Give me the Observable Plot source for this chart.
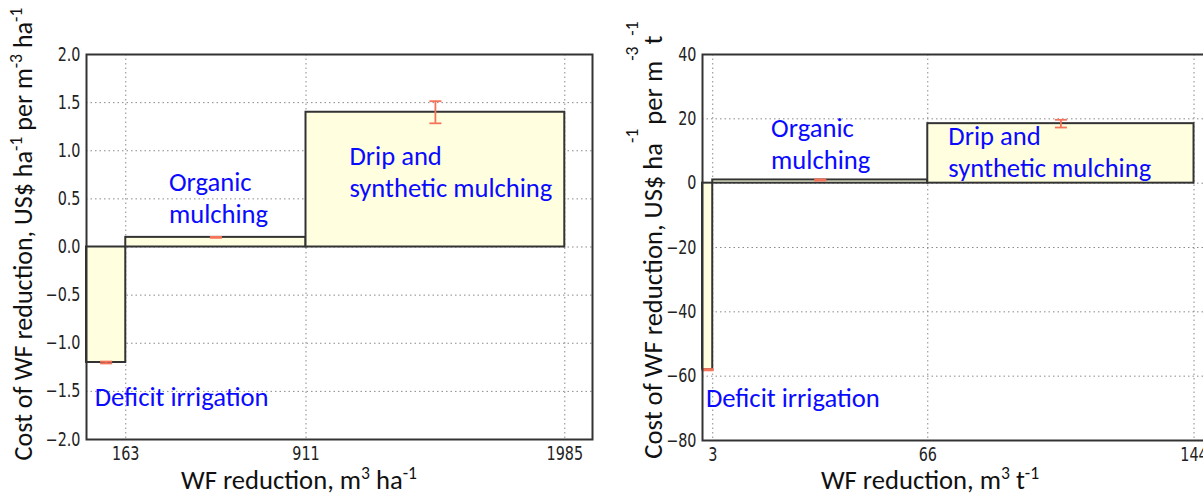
<!DOCTYPE html>
<html>
<head>
<meta charset="utf-8">
<script src="https://cdn.jsdelivr.net/npm/d3@7"></script>
<script src="https://cdn.jsdelivr.net/npm/@observablehq/plot@0.6"></script>
<style>
  html, body { margin: 0; padding: 0; background: #fff; overflow: hidden; }
  #wrap { position: relative; width: 1203px; height: 495px; overflow: hidden; background: #fff; }
  .panel { position: absolute; top: 0; }
  .panel svg { max-width: none !important; }
</style>
</head>
<body>
<div id="wrap">
  <div id="left" class="panel" style="left:0px"></div>
  <div id="right" class="panel" style="left:600px"></div>
</div>
<script>
// ---------------- data ----------------
const categories = ["Deficit irrigation", "Organic mulching", "Drip and synthetic mulching"];
const labelTexts = ["Deficit irrigation", "Organic\nmulching", "Drip and\nsynthetic mulching"];

// Left panel: per hectare
const leftStart = [0, 163, 911];
const leftEnd = [163, 911, 1985];
const leftCost = [-1.2, 0.1, 1.4];
const leftErr = [0.01, 0.005, 0.115];
const leftXTicks = [163, 911, 1985];
const leftYTicks = [-2, -1.5, -1, -0.5, 0, 0.5, 1, 1.5, 2];
const leftXDomain = [0, 2100];
const leftYDomain = [-2, 2];
const leftLabelX = [34, 342, 1091];
const leftLabelY = [-1.545, 0.526, 0.797];

// Right panel: per tonne
const rightStart = [0, 3, 66];
const rightEnd = [3, 66, 144];
const rightCost = [-58, 1, 18.5];
const rightErr = [0.2, 0.2, 1.2];
const rightXTicks = [3, 66, 144];
const rightYTicks = [-80, -60, -40, -20, 0, 20, 40];
const rightXDomain = [0, 150];
const rightYDomain = [-80, 40];
const rightLabelX = [1.0, 20.1, 72];
const rightLabelY = [-66.4, 12.5, 10.2];

// ---------------- fonts ----------------
const ctx = document.createElement("canvas").getContext("2d");
function measure(text, family, size = 100) { ctx.font = `${size}px ${family}`; return ctx.measureText(text).width; }
function available(name) {
  return measure("1985 Abcdefg", `"${name}", monospace`) !== measure("1985 Abcdefg", "monospace");
}
let tickFamily = '"DejaVu Sans Condensed", "DejaVu Sans", sans-serif';
if (available("Liberation Sans Narrow")) tickFamily = '"Liberation Sans Narrow", sans-serif';
else if (available("DejaVu Sans Condensed")) tickFamily = '"DejaVu Sans Condensed", sans-serif';
const tickFont = 19;
const tickSqueeze = Math.min(1, 36.6 / measure("1985", tickFamily, tickFont));

const textFamily = '"Carlito", "Lato", sans-serif';
const textFont = 100 * 174 / measure("Deficit irrigation", textFamily);

const blue = "#0a0aff";
const errColor = "#f4735a";
const barFill = "#ffffe0";
const dark = "#333";

// custom horizontal-line symbol for error caps
const capSymbol = { draw(c, size) { const r = Math.sqrt(size / Math.PI); c.moveTo(-r, 0); c.lineTo(r, 0); } };

function rows(start, end, cost, err, lx, ly) {
  return categories.map((c, i) => ({
    category: c, start: start[i], end: end[i], cost: cost[i],
    mid: (start[i] + end[i]) / 2, lo: cost[i] - err[i], hi: cost[i] + err[i],
    label: labelTexts[i], lx: lx[i], ly: ly[i]
  }));
}

function panel(data, cfg) {
  const svg = Plot.plot({
    width: cfg.width, height: 495,
    marginLeft: cfg.marginLeft, marginRight: cfg.marginRight, marginTop: 54, marginBottom: cfg.marginBottom,
    style: { fontFamily: tickFamily, fontSize: tickFont + "px", color: "#222", background: "transparent", overflow: "visible" },
    x: { domain: cfg.xDomain, ticks: cfg.xTicks, tickSize: 0, tickPadding: 7, label: null, tickFormat: d3.format("d") },
    y: { domain: cfg.yDomain, ticks: cfg.yTicks, tickSize: 0, tickPadding: 6, label: null, tickFormat: cfg.yFormat },
    marks: [
      Plot.gridY(cfg.yTicks, { stroke: "#8a8a8a", strokeOpacity: 1, strokeDasharray: "1.5,3", strokeWidth: 1 }),
      Plot.gridX(cfg.xTicks, { stroke: "#8a8a8a", strokeOpacity: 1, strokeDasharray: "1.5,3", strokeWidth: 1 }),
      Plot.rect(data, { x1: "start", x2: "end", y1: 0, y2: "cost", fill: barFill, stroke: dark, strokeWidth: 2 }),
      Plot.ruleX(data, { x: "mid", y1: "lo", y2: "hi", stroke: errColor, strokeWidth: 1.8 }),
      Plot.dot(data, { x: "mid", y: "lo", symbol: capSymbol, r: 6, stroke: errColor, strokeWidth: 1.8, fill: "none" }),
      Plot.dot(data, { x: "mid", y: "hi", symbol: capSymbol, r: 6, stroke: errColor, strokeWidth: 1.8, fill: "none" }),
      Plot.text(data, { x: "lx", y: "ly", text: "label", textAnchor: "start", lineAnchor: "middle",
        fill: blue, fontFamily: textFamily, fontSize: textFont, lineHeight: 32 / textFont }),
      Plot.frame({ stroke: dark, strokeWidth: 2 })
    ]
  });
  svg.style.maxWidth = "none";
  // squeeze tick labels horizontally to mimic the condensed tick font
  d3.select(svg).selectAll('g[aria-label$="tick label"] text').each(function () {
    const tr = this.getAttribute("transform") || "";
    this.setAttribute("transform", tr + ` scale(${tickSqueeze},1)`);
  });
  return svg;
}

function addTitles(svg, yTitle, xTitle) {
  const s = d3.select(svg);
  const ty = s.append("text")
    .attr("transform", `translate(${yTitle.x},${yTitle.y}) rotate(-90)`)
    .attr("text-anchor", "middle")
    .attr("font-family", textFamily).attr("font-size", yTitle.size || textFont).attr("fill", "#111");
  yTitle.parts.forEach(p => {
    const t = ty.append("tspan").text(p.t);
    if (p.dy) t.attr("dy", p.dy);
    if (p.dx) t.attr("dx", p.dx);
    if (p.sup) t.attr("font-size", textFont * 0.66);
  });
  const tx = s.append("text")
    .attr("x", xTitle.x).attr("y", xTitle.y)
    .attr("text-anchor", "middle")
    .attr("font-family", textFamily).attr("font-size", textFont).attr("fill", "#111");
  xTitle.parts.forEach(p => {
    const t = tx.append("tspan").text(p.t);
    if (p.dy) t.attr("dy", p.dy);
    if (p.sup) t.attr("font-size", textFont * 0.66);
  });
}

const leftData = rows(leftStart, leftEnd, leftCost, leftErr, leftLabelX, leftLabelY);
const rightData = rows(rightStart, rightEnd, rightCost, rightErr, rightLabelX, rightLabelY);

const leftSvg = panel(leftData, {
  width: 600, marginLeft: 86, marginRight: 8, marginBottom: 56,
  xDomain: leftXDomain, yDomain: leftYDomain, xTicks: leftXTicks, yTicks: leftYTicks, yFormat: d3.format(".1f")
});
const rightSvg = panel(rightData, {
  width: 622, marginLeft: 102, marginRight: 8, marginBottom: 55,
  xDomain: rightXDomain, yDomain: rightYDomain, xTicks: rightXTicks, yTicks: rightYTicks, yFormat: d3.format("d")
});

const sup = -10;
addTitles(leftSvg,
  { x: 32, y: 234, size: textFont * 0.98, parts: [
    { t: "Cost of WF reduction, US$ ha" }, { t: "-1", dy: sup, sup: true },
    { t: " per m", dy: -sup }, { t: "-3", dy: sup, sup: true },
    { t: " ha", dy: -sup }, { t: "-1", dy: sup, sup: true } ] },
  { x: 299, y: 489, parts: [
    { t: "WF reduction, m" }, { t: "3", dy: sup, sup: true },
    { t: " ha", dy: -sup }, { t: "-1", dy: sup, sup: true } ] });

const big = -24;
addTitles(rightSvg,
  { x: 62, y: 240, parts: [
    { t: "Cost of WF reduction, US$ ha" }, { t: "-1", dy: big, sup: true },
    { t: "per m", dy: -big, dx: 4 }, { t: "-3", dy: big, sup: true },
    { t: "t", dy: -big, dx: 2 }, { t: "-1", dy: big, sup: true } ] },
  { x: 330, y: 489, parts: [
    { t: "WF reduction, m" }, { t: "3", dy: sup, sup: true },
    { t: " t", dy: -sup }, { t: "-1", dy: sup, sup: true } ] });

document.getElementById("left").appendChild(leftSvg);
document.getElementById("right").appendChild(rightSvg);
</script>
</body>
</html>
